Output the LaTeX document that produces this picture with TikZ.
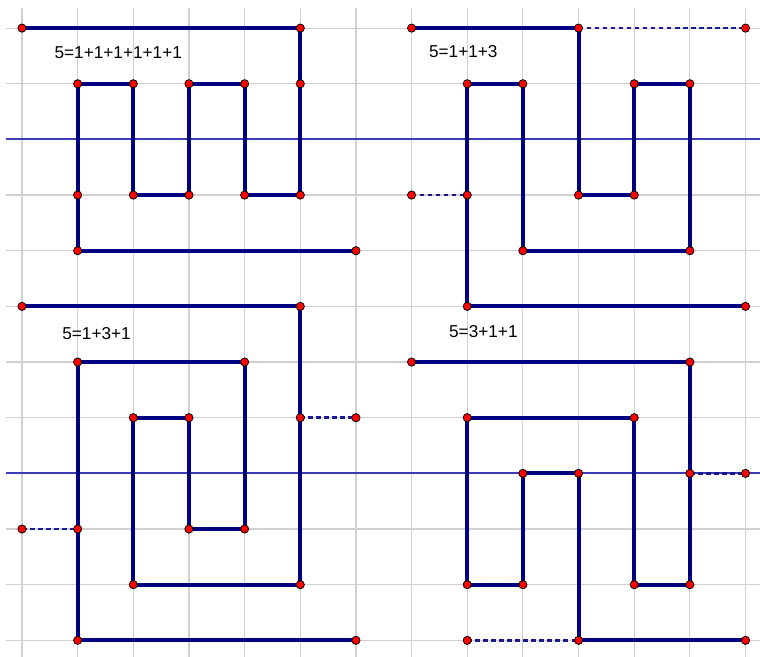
\documentclass[tikz,border=0pt]{standalone}
\usepackage{fontspec}
\setmainfont{Liberation Sans}
\definecolor{walkblue}{RGB}{0,0,128}
\definecolor{midblue}{RGB}{60,60,185}
\definecolor{extblue}{RGB}{25,25,145}
\definecolor{gridgray}{RGB}{208,208,208}
\begin{document}
\begin{tikzpicture}[x=1cm,y=-1cm,
  gridline/.style={draw=gridgray,line width=0.6pt},
  midline/.style={draw=midblue,line width=0.95pt},
  walk/.style={draw=walkblue,line width=2.1pt,line join=miter},
  ext/.style={draw=extblue,line width=1.25pt,dash pattern=on 2.4pt off 1.7pt},
  dot/.style={circle,draw=black,fill=red,line width=0.4pt,inner sep=0pt,minimum size=4.2pt},
  sum/.style={font=\fontsize{8.8}{10}\selectfont,inner sep=0pt}]
\useasboundingbox (-0.395,-0.505) rectangle (13.26,11.297);
\foreach \i in {0,...,13} {
	\draw[gridline] (\i,-0.36) -- (\i,11.3);
}
\foreach \j in {0,1,3,4,5,6,7,9,10,11} {
	\draw[gridline] (-0.29,\j) -- (13.3,\j);
}
\draw[midline] (-0.29,2) -- (13.3,2);
\draw[midline] (-0.29,8) -- (13.3,8);
\foreach \n/\x/\y in {0/0/0,1/5/0,2/5/1,3/5/3,4/4/3,5/4/1,6/3/1,7/3/3,8/2/3,9/2/1,10/1/1,11/1/3,12/1/4,13/6/4} {
	\coordinate (a-\n) at (\x,\y);
}
\foreach \n/\x/\y in {0/7/0,1/10/0,2/10/3,3/11/3,4/11/1,5/12/1,6/12/4,7/9/4,8/9/1,9/8/1,10/8/3,11/8/5,12/13/5,13/13/0,14/7/3} {
	\coordinate (b-\n) at (\x,\y);
}
\foreach \n/\x/\y in {0/0/5,1/5/5,2/5/7,3/5/10,4/2/10,5/2/7,6/3/7,7/3/9,8/4/9,9/4/6,10/1/6,11/1/9,12/1/11,13/6/11,14/6/7,15/0/9} {
	\coordinate (c-\n) at (\x,\y);
}
\foreach \n/\x/\y in {0/7/6,1/12/6,2/12/8,3/12/10,4/11/10,5/11/7,6/8/7,7/8/10,8/9/10,9/9/8,10/10/8,11/10/11,12/13/11,13/13/8,14/8/11} {
	\coordinate (d-\n) at (\x,\y);
}
\draw[ext] (b-1) -- (b-13);
\draw[ext] (b-14) -- (b-10);
\draw[ext] (c-2) -- (c-14);
\draw[ext] (c-15) -- (c-11);
\draw[ext] (d-2) -- (d-13);
\draw[ext] (d-14) -- (d-11);
\draw[walk] (a-0) \foreach \n in {1,...,13} { -- (a-\n) };
\draw[walk] (b-0) \foreach \n in {1,...,12} { -- (b-\n) };
\draw[walk] (c-0) \foreach \n in {1,...,13} { -- (c-\n) };
\draw[walk] (d-0) \foreach \n in {1,...,12} { -- (d-\n) };
\foreach \n in {0,...,13} {
	\node[dot] (pa-\n) at (a-\n) {};
}
\foreach \n in {0,...,14} {
	\node[dot] (pb-\n) at (b-\n) {};
}
\foreach \n in {0,...,15} {
	\node[dot] (pc-\n) at (c-\n) {};
}
\foreach \n in {0,...,14} {
	\node[dot] (pd-\n) at (d-\n) {};
}
\node[sum] (sum-a) at (1.73,0.45) {5=1+1+1+1+1+1};
\node[sum] (sum-b) at (7.93,0.42) {5=1+1+3};
\node[sum] (sum-c) at (1.34,5.48) {5=1+3+1};
\node[sum] (sum-d) at (8.29,5.46) {5=3+1+1};
\end{tikzpicture}
\end{document}
